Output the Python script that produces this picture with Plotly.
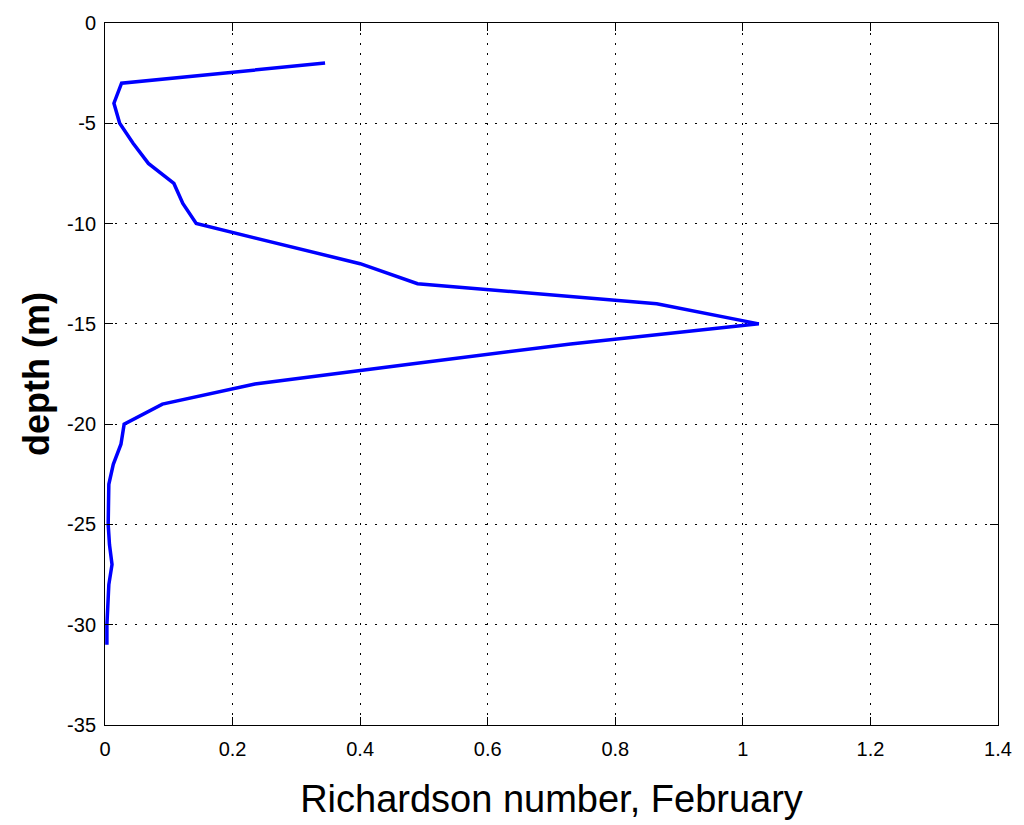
import plotly.graph_objects as go

depth = [-2, -3, -4, -5, -6, -7, -8, -9, -10, -11, -12, -13, -14, -15, -16,
         -17, -18, -19, -20, -21, -22, -23, -24, -25, -26, -27, -28, -29, -30, -31]
richardson = [0.345, 0.026, 0.014, 0.023, 0.044, 0.068, 0.108, 0.122, 0.143, 0.27,
              0.40, 0.49, 0.865, 1.025, 0.73, 0.48, 0.235, 0.09, 0.03, 0.025,
              0.013, 0.006, 0.006, 0.005, 0.007, 0.011, 0.006, 0.004, 0.003, 0.003]

x_ticks = [0, 0.2, 0.4, 0.6, 0.8, 1.0, 1.2, 1.4]
x_labels = ["0", "0.2", "0.4", "0.6", "0.8", "1", "1.2", "1.4"]
y_ticks = [0, -5, -10, -15, -20, -25, -30, -35]
y_labels = ["0", "-5", "-10", "-15", "-20", "-25", "-30", "-35"]

FONT = "Liberation Sans, Arial, sans-serif"

fig = go.Figure()
fig.add_trace(go.Scatter(x=richardson, y=depth, mode="lines",
                         line=dict(color="#0000FF", width=3.5),
                         showlegend=False))

axis_common = dict(
    showline=True, linecolor="black", linewidth=1, mirror="ticks",
    ticks="inside", ticklen=8, tickcolor="black", tickwidth=1,
    showgrid=True, gridcolor="black", gridwidth=1, griddash="2px,8px",
    zeroline=False,
    tickfont=dict(family=FONT, size=20, color="black"),
)

fig.update_xaxes(range=[0, 1.4], tickvals=x_ticks, ticktext=x_labels,
                 ticklabelstandoff=6,
                 title=dict(text="Richardson number, February",
                            font=dict(family=FONT, size=38, color="black"),
                            standoff=26),
                 **axis_common)
fig.update_yaxes(range=[-35, 0], tickvals=y_ticks, ticktext=y_labels,
                 ticklabelstandoff=4,
                 title=dict(text="<b>depth (m)</b>",
                            font=dict(family=FONT, size=36, color="black"),
                            standoff=6),
                 **axis_common)

fig.update_layout(
    width=1024, height=825,
    margin=dict(l=105, r=21, t=18, b=98),
    paper_bgcolor="white", plot_bgcolor="white",
)

fig.write_html("out.html")
